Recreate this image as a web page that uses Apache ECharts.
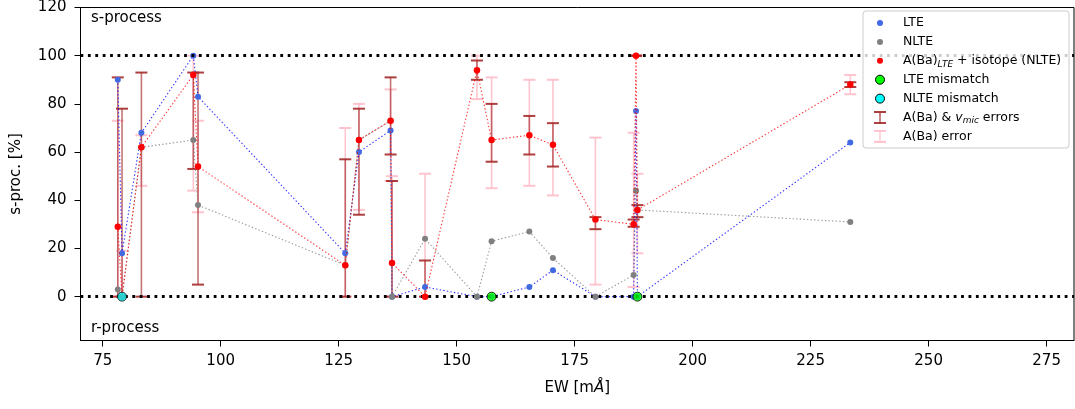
<!DOCTYPE html>
<html>
<head>
<meta charset="utf-8">
<script src="https://cdn.jsdelivr.net/npm/echarts@6/dist/echarts.min.js"></script>
<style>html,body{margin:0;padding:0;background:#fff}#chart{width:1075px;height:409px}</style>
</head>
<body>
<div id="chart"></div>
<script>
// ---- data ----
const ew        = [78.2, 79.1, 83.2, 94.2, 95.2, 126.4, 129.3, 136.0, 136.3, 143.3, 154.3, 157.4, 165.4, 170.4, 179.4, 187.5, 188.0, 188.3, 233.4];
const lteVals   = [90, 18, 68, 100, 83, 18, 60, 69, 0, 4, 0, 0, 4, 11, 0, 0, 77, 0, 64];
const nlteVals  = [3, 0, 62, 65, 38, 13, 65, 73, 0, 24, 0, 23, 27, 16, 0, 9, 44, 36, 31];
const isoVals   = [29, 0, 62, 92, 54, 13, 65, 73, 14, 0, 94, 65, 67, 63, 32, 30, 100, 36, 88];
const vmicErrLow  = [0, 0, 0, 53, 5, 0, 34, 59, 0, 0, 90, 56, 59, 54, 28, 29, 100, 33, 87];
const vmicErrHigh = [91, 78, 93, 93, 93, 57, 78, 91, 48, 15, 98, 80, 75, 72, 33, 32, 100, 38, 89];
const baErrLow    = [0, 0, 46, 44, 35, 0, 36, 48, 0, 0, 82, 45, 46, 42, 5, 4, 100, 18, 84];
const baErrHigh   = [73, 19, 67, 100, 73, 70, 80, 86, 50, 51, 100, 91, 90, 90, 66, 68, 100, 51, 92];
const lteMismatchEw   = [157.4, 188.3];
const lteMismatchVals = [0, 0];
const nlteMismatchEw   = [79.1];
const nlteMismatchVals = [0];
const xTicks = [75, 100, 125, 150, 175, 200, 225, 250, 275];
const yTicks = [0, 20, 40, 60, 80, 100, 120];
const refLines = [0, 100];

const FONT = 'DejaVu Sans';
const pairs = (xs, ys) => xs.map((x, i) => [x, ys[i]]);
const triples = (xs, lo, hi) => xs.map((x, i) => [x, lo[i], hi[i]]);

function errRender(color, halfCap, lw, capLw, lineOp, capOp) {
  return function (params, api) {
    const x = api.value(0), lo = api.value(1), hi = api.value(2);
    const p1 = api.coord([x, lo]), p2 = api.coord([x, hi]);
    return {
      type: 'group',
      children: [
        {type: 'line', shape: {x1: p1[0], y1: p1[1], x2: p2[0], y2: p2[1]}, style: {stroke: color, lineWidth: lw, opacity: lineOp}},
        {type: 'line', shape: {x1: p1[0] - halfCap, y1: p1[1], x2: p1[0] + halfCap, y2: p1[1]}, style: {stroke: color, lineWidth: capLw, opacity: capOp}},
        {type: 'line', shape: {x1: p2[0] - halfCap, y1: p2[1], x2: p2[0] + halfCap, y2: p2[1]}, style: {stroke: color, lineWidth: capLw, opacity: capOp}}
      ]
    };
  };
}

const chart = echarts.init(document.getElementById('chart'), null, {renderer: 'canvas'});

const legX = 863, legY = 11, rowH = 18.9, iconX = 880, textX = 903;
const legTextStyle = {fontFamily: FONT, fontSize: 12.5, fill: '#000', verticalAlign: 'middle'};
function legRowY(i) { return legY + 12 + i * rowH; }
function errIcon(i, color, op) {
  const cy = legRowY(i);
  return [
    {type: 'line', z: 101, shape: {x1: iconX, y1: cy - 5.5, x2: iconX, y2: cy + 5.5}, style: {stroke: color, lineWidth: 1.6, opacity: op * 0.8}},
    {type: 'line', z: 101, shape: {x1: iconX - 6, y1: cy - 5.5, x2: iconX + 6, y2: cy - 5.5}, style: {stroke: color, lineWidth: 2, opacity: op}},
    {type: 'line', z: 101, shape: {x1: iconX - 6, y1: cy + 5.5, x2: iconX + 6, y2: cy + 5.5}, style: {stroke: color, lineWidth: 2, opacity: op}}
  ];
}
const rich = {
  n: {fontFamily: FONT, fontSize: 12.5, fill: '#000', lineHeight: 16},
  s: {fontFamily: FONT, fontSize: 9, fontStyle: 'italic', fill: '#000', lineHeight: 10, verticalAlign: 'bottom'},
  i: {fontFamily: FONT, fontSize: 12.5, fontStyle: 'italic', fill: '#000', lineHeight: 16}
};
const legendGraphic = [
  {type: 'rect', z: 100, shape: {x: legX, y: legY, width: 206, height: 137, r: 3}, style: {fill: 'rgba(255,255,255,0.8)', stroke: '#cccccc', lineWidth: 1}},
  {type: 'circle', z: 101, shape: {cx: iconX, cy: legRowY(0), r: 3}, style: {fill: '#4169E1'}},
  {type: 'circle', z: 101, shape: {cx: iconX, cy: legRowY(1), r: 3}, style: {fill: '#808080'}},
  {type: 'circle', z: 101, shape: {cx: iconX, cy: legRowY(2), r: 3}, style: {fill: '#ff0000'}},
  {type: 'circle', z: 101, shape: {cx: iconX, cy: legRowY(3), r: 4.5}, style: {fill: '#00ff00', stroke: '#000', lineWidth: 1}},
  {type: 'circle', z: 101, shape: {cx: iconX, cy: legRowY(4), r: 4.5}, style: {fill: '#00ffff', stroke: '#000', lineWidth: 1}},
  ...errIcon(5, '#A52A2A', 0.9),
  ...errIcon(6, '#FFC0CB', 0.95),
  {type: 'text', z: 101, x: textX, y: legRowY(0), style: Object.assign({text: 'LTE'}, legTextStyle)},
  {type: 'text', z: 101, x: textX, y: legRowY(1), style: Object.assign({text: 'NLTE'}, legTextStyle)},
  {type: 'text', z: 101, x: textX, y: legRowY(2), style: {text: '{n|A(Ba)}{s|LTE}{n| + isotope (NLTE)}', rich: rich, verticalAlign: 'middle'}},
  {type: 'text', z: 101, x: textX, y: legRowY(3), style: Object.assign({text: 'LTE mismatch'}, legTextStyle)},
  {type: 'text', z: 101, x: textX, y: legRowY(4), style: Object.assign({text: 'NLTE mismatch'}, legTextStyle)},
  {type: 'text', z: 101, x: textX, y: legRowY(5), style: {text: '{n|A(Ba) & }{i|v}{s|mic}{n| errors}', rich: rich, verticalAlign: 'middle'}},
  {type: 'text', z: 101, x: textX, y: legRowY(6), style: Object.assign({text: 'A(Ba) error'}, legTextStyle)},
  {type: 'text', z: 90, x: 91, y: 18.5, style: {text: 's-process', fontFamily: FONT, fontSize: 15, fill: '#000', verticalAlign: 'middle'}},
  {type: 'text', z: 90, x: 91, y: 328.5, style: {text: 'r-process', fontFamily: FONT, fontSize: 15, fill: '#000', verticalAlign: 'middle'}}
];

const option = {
  animation: false,
  backgroundColor: '#fff',
  textStyle: {fontFamily: FONT},
  grid: {left: 80.5, right: 1, top: 7, bottom: 68.5, show: true, borderColor: '#000', borderWidth: 1, backgroundColor: 'transparent'},
  xAxis: {
    type: 'value', min: 70.3, max: 280.8,
    name: 'EW [m{i|Å}]', nameLocation: 'middle', nameGap: 40,
    nameTextStyle: {fontFamily: FONT, fontSize: 15, color: '#000', rich: {i: {fontFamily: FONT, fontSize: 15, fontStyle: 'italic', color: '#000'}}},
    axisLine: {show: true, onZero: false, lineStyle: {color: '#000', width: 1}},
    axisTick: {show: true, inside: false, length: 6, customValues: xTicks, lineStyle: {color: '#000', width: 1}},
    axisLabel: {show: true, customValues: xTicks, margin: 13, fontFamily: FONT, fontSize: 15, color: '#000'},
    splitLine: {show: false}
  },
  yAxis: {
    type: 'value', min: -18.2, max: 120,
    name: 's-proc. [%]', nameLocation: 'middle', nameGap: 57, nameRotate: 90,
    nameTextStyle: {fontFamily: FONT, fontSize: 15, color: '#000'},
    axisLine: {show: true, onZero: false, lineStyle: {color: '#000', width: 1}},
    axisTick: {show: true, inside: false, length: 6, customValues: yTicks, lineStyle: {color: '#000', width: 1}},
    axisLabel: {show: true, customValues: yTicks, margin: 14, fontFamily: FONT, fontSize: 15, color: '#000'},
    splitLine: {show: false}
  },
  graphic: legendGraphic,
  series: [
    {
      name: 'ref', type: 'line', data: [], z: 1, silent: true,
      markLine: {
        silent: true, symbol: 'none', label: {show: false}, animation: false,
        lineStyle: {color: '#000', width: 2.8, type: [2.8, 4.6], opacity: 1},
        data: refLines.map(v => ({yAxis: v}))
      }
    },
    {
      name: 'A(Ba) error', type: 'custom', z: 2,
      renderItem: errRender('#FFC0CB', 6, 1.6, 2, 0.9, 0.95),
      encode: {x: 0, y: [1, 2]},
      data: triples(ew, baErrLow, baErrHigh)
    },
    {
      name: 'A(Ba) & vmic errors', type: 'custom', z: 3,
      renderItem: errRender('#A52A2A', 6, 1.6, 2, 0.65, 0.9),
      encode: {x: 0, y: [1, 2]},
      data: triples(ew, vmicErrLow, vmicErrHigh)
    },
    {
      name: 'LTE', type: 'line', z: 4, data: pairs(ew, lteVals),
      symbol: 'circle', symbolSize: 6, showSymbol: true,
      itemStyle: {color: '#4169E1'},
      lineStyle: {color: 'rgba(0,0,255,0.8)', width: 1.1, type: [1.4, 2.2]}
    },
    {
      name: 'NLTE', type: 'line', z: 5, data: pairs(ew, nlteVals),
      symbol: 'circle', symbolSize: 6, showSymbol: true,
      itemStyle: {color: '#808080'},
      lineStyle: {color: 'rgba(128,128,128,0.8)', width: 1.1, type: [1.4, 2.2]}
    },
    {
      name: 'A(Ba)LTE + isotope (NLTE)', type: 'line', z: 6, data: pairs(ew, isoVals),
      symbol: 'circle', symbolSize: 6.5, showSymbol: true,
      itemStyle: {color: '#ff0000'},
      lineStyle: {color: 'rgba(255,0,0,0.8)', width: 1.1, type: [1.4, 2.2]}
    },
    {
      name: 'LTE mismatch', type: 'scatter', z: 7, data: pairs(lteMismatchEw, lteMismatchVals),
      symbol: 'circle', symbolSize: 9,
      itemStyle: {color: '#00ff00', borderColor: '#000', borderWidth: 1}
    },
    {
      name: 'NLTE mismatch', type: 'scatter', z: 7, data: pairs(nlteMismatchEw, nlteMismatchVals),
      symbol: 'circle', symbolSize: 9,
      itemStyle: {color: '#00ffff', borderColor: '#000', borderWidth: 1}
    }
  ]
};
chart.setOption(option);
</script>
</body>
</html>
